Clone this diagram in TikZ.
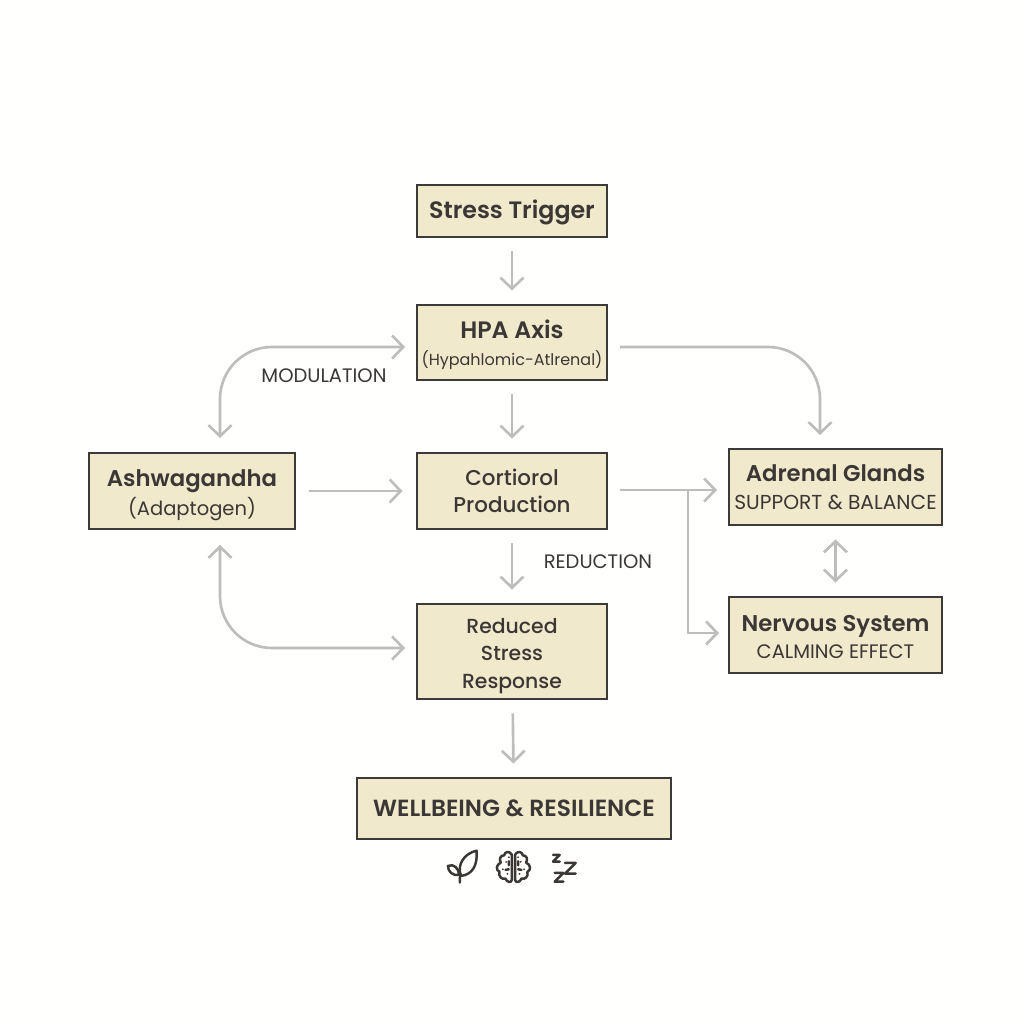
\documentclass[tikz,border=0pt]{standalone}
\usepackage{fontspec}
\setmainfont{Poppins}
\newfontfamily\headfont{Poppins SemiBold}
\newfontfamily\midfont{Poppins Medium}
\usepackage{xcolor}
\usepackage{tikz}
\usetikzlibrary{arrows.meta}
\definecolor{boxfill}{HTML}{F1E9CC}
\definecolor{boxline}{HTML}{3C3B39}
\definecolor{ink}{HTML}{3A3735}
\definecolor{linkgray}{HTML}{BDBDBB}
\newcommand{\hd}{\headfont\fontsize{6.75}{8}\selectfont}
\newcommand{\hs}{\headfont\fontsize{6.48}{8}\selectfont}
\newcommand{\md}{\midfont\fontsize{6.1}{7.8}\selectfont}
\newcommand{\mr}{\midfont\fontsize{5.8}{7.8}\selectfont}
\newcommand{\sm}{\fontsize{5.55}{7}\selectfont}
\newcommand{\lift}[1]{\rule{0pt}{#1pt}}

\begin{document}
\begin{tikzpicture}[>={Straight Barb[length=1.1mm,width=2.3mm]}]
\tikzstyle{box}=[draw=boxline,fill=boxfill,line width=0.85pt,text=ink,align=center,inner sep=0pt,minimum width=1.9cm,font=\fontsize{6}{7.8}\selectfont];
\tikzstyle{link}=[draw=linkgray,line width=0.75pt,->];
\tikzstyle{gap}=[link,shorten <=0.13cm,shorten >=0.13cm];
\tikzstyle{curve}=[link,rounded corners=0.52cm];
\tikzstyle{tag}=[text=ink,font=\sm];
\tikzstyle{icon}=[draw=ink,line width=0.7pt,line cap=round,line join=round];

\fill[white!99!boxfill] (0,0) rectangle (10.24,10.24);
\useasboundingbox (0,0) rectangle (10.24,10.24);

% boxes
\node[box,minimum height=0.52cm] (trigger) at (5.12,8.13) {\hd\lift{6.2}Stress Trigger};
\node[box,minimum height=0.75cm] (hpa) at (5.12,6.815) {\hd\lift{6.6}HPA Axis\\\fontsize{4.55}{6}\selectfont (Hypahlomic-Atlrenal)};
\node[box,minimum height=0.76cm] (cortisol) at (5.12,5.33) {\md Cortiorol\\\md Production};
\node[box,minimum height=0.95cm] (reduced) at (5.12,3.725) {\mr\lift{6.9}Reduced\\\mr Stress\\\mr Response};
\node[box,minimum width=3.14cm,minimum height=0.61cm] (wellbeing) at (5.14,2.155) {\headfont\fontsize{6.65}{8}\selectfont WELLBEING \& RESILIENCE};
\node[box,minimum width=2.06cm,minimum height=0.76cm] (ashwa) at (1.92,5.33) {\hs\lift{7.2}Ashwagandha\\[0.5pt]\sm (Adaptogen)};
\node[box,minimum width=2.13cm,minimum height=0.76cm] (adrenal) at (8.355,5.37) {\hs Adrenal Glands\\\fontsize{5.75}{7}\selectfont SUPPORT \& BALANCE};
\node[box,minimum width=2.13cm,minimum height=0.76cm] (nervous) at (8.355,3.89) {\hs\lift{5.6}Nervous System\\\sm CALMING EFFECT};

% labels
\node[tag] (modulation) at (3.24,6.48) {MODULATION};
\node[tag] (reduction) at (5.98,4.62) {REDUCTION};

% free ends
\coordinate (hpaL) at (4.05,6.77);
\coordinate (hpaR) at (6.2,6.77);
\coordinate (ashT) at (2.2,5.86);
\coordinate (ashB) at (2.2,4.79);
\coordinate (redL) at (4.05,3.76);
\coordinate (adrT) at (8.2,5.89);
\coordinate (cortR) at (6.2,5.34);
\coordinate (adrL) at (7.17,5.34);
\coordinate (split) at (6.88,5.34);
\coordinate (nerL) at (7.19,3.91);

% straight links
\draw[gap] (trigger) -- (hpa);
\draw[gap] (hpa) -- (cortisol);
\draw[gap] (cortisol) -- (reduced);
\draw[gap] (reduced) -- (wellbeing);
\draw[gap] (ashwa) -- (cortisol);
\draw[gap,<->] (adrenal) -- (nervous);

% bent links
\draw[curve,<->] (hpaL) -| (ashT);
\draw[curve,<->] (redL) -| (ashB);
\draw[curve] (hpaR) -| (adrT);
\draw[link] (cortR) -- (adrL);
\draw[link] (split) |- (nerL);

% icons
\begin{scope}[shift={(4.2,1.84)},x=0.00333cm,y=-0.00333cm]
\draw[icon] (122,108) .. controls (112,75) and (130,42) .. (170,32) .. controls (174,75) and (158,105) .. (122,108);
\draw[icon] (120,128) .. controls (120,112) and (120,108) .. (122,100);
\draw[icon] (118,105) .. controls (116,85) and (102,70) .. (84,78) .. controls (84,95) and (98,108) .. (118,105);
\foreach \s in {1,-1}{
\begin{scope}[shift={(281,82)},xscale=\s]
\draw[icon] (-5,-38) .. controls (-12,-50) and (-26,-48) .. (-28,-36) .. controls (-40,-36) and (-44,-24) .. (-38,-14) .. controls (-52,-8) and (-54,8) .. (-42,14) .. controls (-46,28) and (-34,38) .. (-24,34) .. controls (-20,46) and (-6,48) .. (-5,38) -- cycle;
\fill[ink] (-22,-16) circle (0.1mm) (-32,6) circle (0.1mm) (-18,20) circle (0.1mm) (-14,-30) circle (0.1mm);
\draw[icon] (-14,-18) -- (-14,-6) (-24,8) -- (-14,6);
\end{scope}
}
\foreach \x/\y/\r in {410/55/10,418/112/13,452/85/16}{
\draw[icon] (\x-\r,\y-\r) -- (\x+\r,\y-\r) -- (\x-\r,\y+\r) -- (\x+\r,\y+\r);
}
\end{scope}
\end{tikzpicture}
\end{document}
